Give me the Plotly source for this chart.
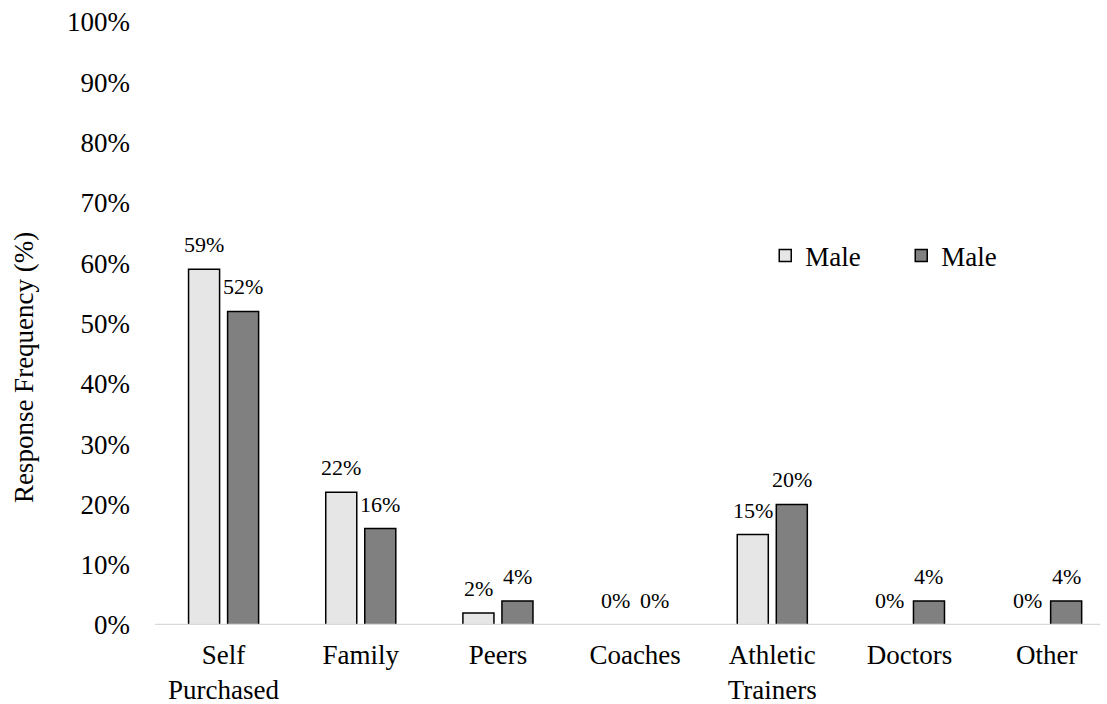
import plotly.graph_objects as go

# Source of supplements, response frequency by group
categories = ["Self<br>Purchased", "Family", "Peers", "Coaches",
              "Athletic<br>Trainers", "Doctors", "Other"]
series_names = ["Male", "Male"]
light_values = [59, 22, 2, 0, 15, 0, 0]
dark_values = [52, 16, 4, 0, 20, 4, 4]
y_ticks = [0, 10, 20, 30, 40, 50, 60, 70, 80, 90, 100]
y_tick_labels = ["0%", "10%", "20%", "30%", "40%", "50%",
                 "60%", "70%", "80%", "90%", "100%"]

FONT = "Liberation Serif"
LIGHT = "#e6e6e6"
DARK = "#808080"

fig = go.Figure()
for name, vals, color in [(series_names[0], light_values, LIGHT),
                          (series_names[1], dark_values, DARK)]:
    fig.add_trace(go.Bar(
        x=categories, y=vals, name=name,
        marker=dict(color=color, line=dict(color="black", width=1.5)),
        hoverinfo="skip",
    ))

# value labels just above each bar
for vals, shift in [(light_values, -19.5), (dark_values, 19.5)]:
    for cat, v in zip(categories, vals):
        fig.add_annotation(
            x=cat, y=v, xref="x", yref="y", text=f"{v}%",
            showarrow=False, xshift=shift, yanchor="bottom", yshift=10,
            font=dict(family=FONT, size=22, color="black"),
        )

# rotated y-axis title
fig.add_annotation(
    x=0, xref="paper", xshift=-148, y=0.426, yref="paper",
    text="Response Frequency (%)", textangle=-90, showarrow=False,
    font=dict(family=FONT, size=27, color="black"),
)

# light grey baseline drawn over the bar bottoms
fig.add_shape(type="line", xref="paper", yref="y", x0=0, x1=0.993,
              y0=0, y1=0, line=dict(color="#d9d9d9", width=2.5),
              layer="above")

fig.update_layout(
    width=1107, height=704,
    margin=dict(l=155, r=0, t=22, b=79),
    paper_bgcolor="white", plot_bgcolor="white",
    font=dict(family=FONT, size=27, color="black"),
    barmode="group", bargap=0.431, bargroupgap=0.205,
    showlegend=True,
    legend=dict(orientation="h", x=0.641, y=0.612, xanchor="left",
                yanchor="middle", font=dict(family=FONT, size=27),
                bgcolor="rgba(0,0,0,0)", entrywidth=91),
)
fig.update_xaxes(
    range=[-0.5, 6.44], showline=False, automargin=False,
    showgrid=False, ticks="", ticklabelstandoff=11, tickangle=0,
)
fig.update_yaxes(
    range=[0, 100], tickvals=y_ticks, ticktext=y_tick_labels,
    showgrid=False, zeroline=False, showline=False, ticks="",
    ticklabelstandoff=24, automargin=False,
)

fig.write_html("out.html")
